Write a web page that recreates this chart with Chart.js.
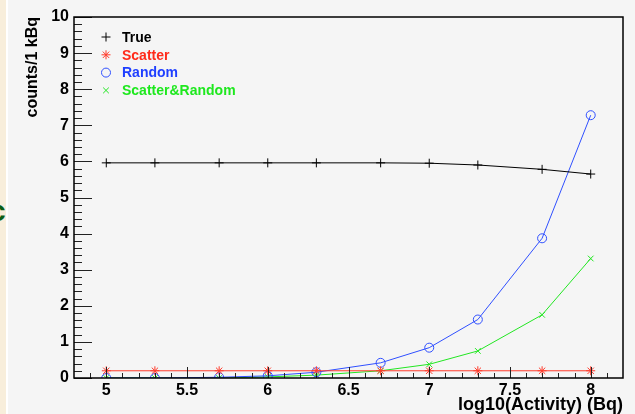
<!DOCTYPE html>
<html>
<head>
<meta charset="utf-8">
<script src="https://cdn.jsdelivr.net/npm/chart.js@4.4.1/dist/chart.umd.min.js"></script>
<style>
  html, body { margin: 0; padding: 0; background: #f5f5f5; overflow: hidden; }
  #wrap { position: relative; width: 635px; height: 414px; }
  #strip { position: absolute; left: 0; top: 0; width: 6px; height: 414px; background: #f8eedb; border-right: 2px solid #ffffff; }
  #deco { position: absolute; left: -11px; top: 194px; font: bold 30px "Liberation Sans", sans-serif; color: #0b5e14; }
  canvas { position: absolute; left: 0; top: 0; }
</style>
</head>
<body>
<div id="wrap">
  <div id="strip"></div>
  <div id="deco">c</div>
  <canvas id="grafica" width="635" height="414"></canvas>
</div>
<script>
document.addEventListener('DOMContentLoaded', function() {
    const actividad = [5, 5.301, 5.699, 6, 6.301, 6.699, 7, 7.301, 7.699, 8];
    const trueVals = [5.96, 5.96, 5.96, 5.96, 5.96, 5.96, 5.95, 5.9, 5.78, 5.65];
    const scatterVals = [0.2, 0.2, 0.2, 0.2, 0.2, 0.2, 0.2, 0.2, 0.2, 0.2];
    const randomVals = [0.0, 0.0, 0.02, 0.06, 0.16, 0.42, 0.84, 1.62, 3.87, 7.28];
    const scatRandVals = [0.0, 0.0, 0.0, 0.03, 0.08, 0.2, 0.38, 0.75, 1.75, 3.31];
    const xTicks = [5, 5.5, 6, 6.5, 7, 7.5, 8];
    const yTicks = [0, 1, 2, 3, 4, 5, 6, 7, 8, 9, 10];

    const series = [
      { label: 'True', vals: trueVals, color: '#000000', text: '#000000', style: 'cross', r: 4.5 },
      { label: 'Scatter', vals: scatterVals, color: '#ff3a2a', text: '#ff2a1a', style: 'star', r: 4.5 },
      { label: 'Random', vals: randomVals, color: '#2f4fff', text: '#1f3fff', style: 'circle', r: 4.5 },
      { label: 'Scatter&Random', vals: scatRandVals, color: '#22e622', text: '#1ee81e', style: 'crossRot', r: 4 }
    ];

    const datasets = series.map(function(s) {
      return {
        label: s.label,
        data: actividad.map(function(x, i) { return { x: x, y: s.vals[i] }; }),
        borderColor: s.color,
        backgroundColor: 'rgba(0,0,0,0)',
        borderWidth: 1,
        showLine: true,
        tension: 0,
        pointStyle: s.style,
        pointRadius: s.r,
        pointBorderWidth: 1,
        pointBorderColor: s.color,
        pointBackgroundColor: 'rgba(0,0,0,0)'
      };
    });

    const fuente = '"Liberation Sans", Arial, sans-serif';

    // marco, marcas hacia dentro, titulos y leyenda al estilo ROOT
    const marcoRoot = {
      id: 'marcoRoot',
      afterDraw: function(chart) {
        const c = chart.ctx;
        const a = chart.chartArea;
        const xs = chart.scales.x, ys = chart.scales.y;
        c.save();
        c.strokeStyle = '#222222';
        c.lineWidth = 1;
        c.beginPath();
        for (let k = 0; k <= 50; k++) {
          const v = k * 0.2;
          const py = Math.round(ys.getPixelForValue(v)) + 0.5;
          const len = (k % 5 === 0) ? 18 : 8;
          c.moveTo(a.left, py);
          c.lineTo(a.left + len, py);
        }
        for (let k = 49; k <= 81; k++) {
          const v = k / 10;
          const px = Math.round(xs.getPixelForValue(v)) + 0.5;
          const len = (k % 5 === 0) ? 11 : 5;
          c.moveTo(px, a.bottom);
          c.lineTo(px, a.bottom - len);
        }
        c.stroke();
        c.strokeStyle = '#000000';
        c.lineWidth = 1.5;
        c.strokeRect(a.left, a.top, a.right - a.left, a.bottom - a.top);

        // titulos de ejes
        c.fillStyle = '#000000';
        c.font = 'bold 18px ' + fuente;
        c.textAlign = 'right';
        c.textBaseline = 'middle';
        c.fillText('log10(Activity) (Bq)', a.right, 405);
        c.save();
        c.translate(33, a.top);
        c.rotate(-Math.PI / 2);
        c.font = 'bold 16px ' + fuente;
        c.textAlign = 'right';
        c.fillText('counts/1 kBq', 0, 0);
        c.restore();

        // leyenda
        series.forEach(function(s, i) {
          const y = 37 + i * 17.8;
          c.strokeStyle = s.color;
          c.fillStyle = 'rgba(0,0,0,0)';
          c.lineWidth = 1;
          Chart.helpers.drawPoint(c, { pointStyle: s.style, radius: s.r, borderWidth: 1 }, 106, y);
          c.fillStyle = s.text;
          c.font = 'bold 14px ' + fuente;
          c.textBaseline = 'middle';
          c.textAlign = 'left';
          c.fillText(s.label, 122, y + 1);
        });
        c.restore();
      }
    };

    const ctx = document.getElementById('grafica').getContext('2d');
    new Chart(ctx, {
      type: 'scatter',
      data: { datasets: datasets },
      plugins: [marcoRoot],
      options: {
        responsive: false,
        animation: false,
        layout: { padding: { left: 0, right: 12, top: 17, bottom: 0 } },
        plugins: {
          legend: { display: false },
          tooltip: { enabled: false }
        },
        scales: {
          x: {
            type: 'linear',
            min: 4.8,
            max: 8.2,
            grid: { display: false, drawTicks: false },
            border: { display: false },
            afterBuildTicks: function(scale) {
              scale.ticks = xTicks.map(function(v) { return { value: v }; });
            },
            afterFit: function(scale) { scale.height = 36; },
            ticks: {
              padding: 3,
              maxRotation: 0,
              autoSkip: false,
              color: '#000',
              font: { family: fuente, size: 16, weight: 'bold' },
              callback: function(v) { return String(v); }
            }
          },
          y: {
            min: 0,
            max: 10,
            grid: { display: false, drawTicks: false },
            border: { display: false },
            afterBuildTicks: function(scale) {
              scale.ticks = yTicks.map(function(v) { return { value: v }; });
            },
            afterFit: function(scale) { scale.width = 74; },
            ticks: {
              padding: 5,
              color: '#000',
              font: { family: fuente, size: 16, weight: 'bold' }
            }
          }
        }
      }
    });
});
</script>
</body>
</html>
